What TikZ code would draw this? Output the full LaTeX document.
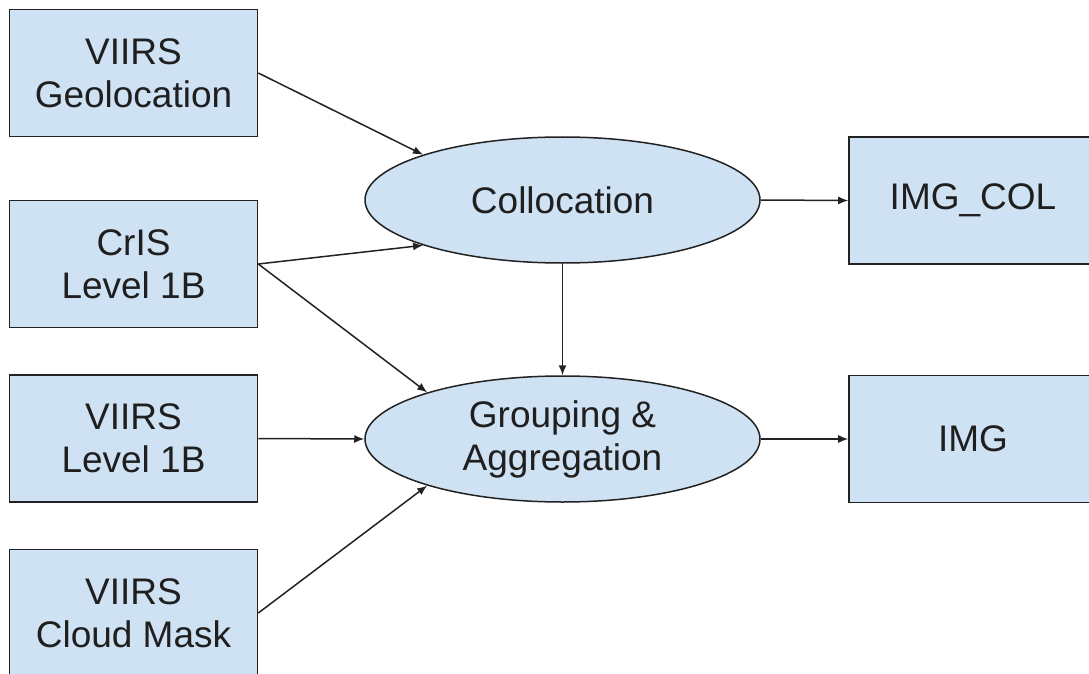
\documentclass[tikz,border=0pt]{standalone}
\usepackage{fontspec}
\setmainfont{Liberation Sans}
\usetikzlibrary{shapes.geometric,arrows.meta}
\definecolor{boxfill}{HTML}{CFE2F3}
\definecolor{edge}{HTML}{222222}
\tikzset{
  databox/.style={draw=edge, line width=1.6pt, fill=boxfill, minimum width=248pt, minimum height=127pt, inner sep=0pt, align=center, font=\fontsize{37}{43}\selectfont, text=black!88},
  procnode/.style={ellipse, draw=edge, line width=1.5pt, fill=boxfill, minimum width=395pt, minimum height=126pt, inner sep=0pt, align=center, font=\fontsize{37}{43}\selectfont, text=black!88},
  flow/.style={draw=edge, line width=1.5pt, -{Latex[length=10pt,width=8pt]}}
}
\begin{document}
\begin{tikzpicture}[x=1pt,y=-1pt]
\useasboundingbox (0,0) rectangle (1089,674);
\node[databox] (geo) at (133.5,73) {VIIRS\\Geolocation};
\node[databox] (cris) at (133.5,264) {CrIS\\Level 1B};
\node[databox] (l1b) at (133.5,438.5) {VIIRS\\Level 1B};
\node[databox] (cm) at (133.5,613) {VIIRS\\Cloud Mask};
\node[procnode] (coll) at (562.5,200) {Collocation};
\node[procnode] (grp) at (562.5,439) {Grouping \&\\Aggregation};
\node[databox] (imgcol) at (973,200.5) {IMG\_COL};
\node[databox] (img) at (973,439) {IMG};
\draw[flow] (geo.east) -- (coll.162);
\draw[flow] (cris.east) -- (coll.198);
\draw[flow] (cris.east) -- (grp.161);
\draw[flow] (l1b.east) -- (grp.west);
\draw[flow] (cm.east) -- (grp.199);
\draw[flow] (coll.south) -- (grp.north);
\draw[flow] (coll.east) -- (imgcol.west);
\draw[flow] (grp.east) -- (img.west);
\end{tikzpicture}
\end{document}
